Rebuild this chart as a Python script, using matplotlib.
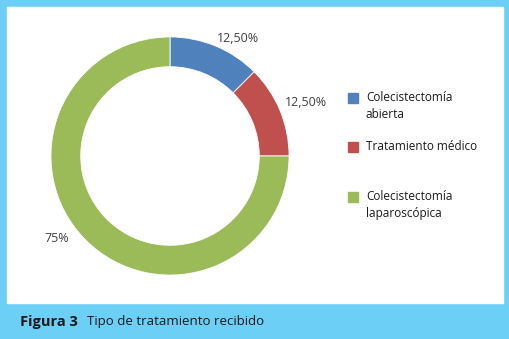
import matplotlib.pyplot as plt
from matplotlib.patches import Rectangle

# datos del grafico
categorias = ["Colecistectomía\nabierta", "Tratamiento médico", "Colecistectomía\nlaparoscópica"]
porcentajes = [12.5, 12.5, 75]
etiquetas = ["12,50%", "12,50%", "75%"]
colores = ["#4f81bd", "#c0504d", "#9bbb59"]

plt.rcParams['font.family'] = ['Open Sans', 'DejaVu Sans']

W, H = 509, 339
fig = plt.figure(figsize=(W / 100, H / 100), dpi=100)

# marco azul claro y fondo blanco
borde = "#6ccff6"
fig.patches.append(Rectangle((0, 0), 1, 1, transform=fig.transFigure, color=borde, zorder=-2))
fig.patches.append(Rectangle((7 / W, (H - 303) / H), 496 / W, 296 / H,
                             transform=fig.transFigure, color="white", zorder=-1))

# donut
cx, cy, r = 170, H - 156, 125
ax = fig.add_axes([(cx - r) / W, (cy - r) / H, 2 * r / W, 2 * r / H])
ax.pie(porcentajes, colors=colores, startangle=90, counterclock=False,
       radius=1, wedgeprops=dict(width=0.25, edgecolor="white", linewidth=0.6))
ax.set_xlim(-1.05, 1.05)
ax.set_ylim(-1.05, 1.05)
ax.set_aspect('equal')
ax.axis('off')

# etiquetas de porcentaje
pos_etiquetas = [(0.57, 0.99), (1.14, 0.45), (-0.95, -0.69)]
for txt, (x, y) in zip(etiquetas, pos_etiquetas):
    ax.text(x, y, txt, ha='center', va='center', fontsize=9, color="#404040")

# leyenda
ley_y = [H - 106, H - 147, H - 205]
for cat, col, y in zip(categorias, colores, ley_y):
    primera = y + (8 if "\n" in cat else 0)
    fig.patches.append(Rectangle((348 / W, (primera - 5) / H), 10 / W, 10 / H,
                                 transform=fig.transFigure, color=col))
    fig.text(366 / W, y / H, cat, ha='left', va='center', fontsize=8.5,
             color="#1a1a1a", linespacing=1.35)

# pie de figura
fig.text(20 / W, (H - 322) / H, "Figura 3", fontsize=10.5, fontweight='bold',
         color="#1a1a1a", va='center')
fig.text(87 / W, (H - 322) / H, "Tipo de tratamiento recibido", fontsize=9.5,
         color="#1a1a1a", va='center')

fig.savefig("out.png", dpi=100)
